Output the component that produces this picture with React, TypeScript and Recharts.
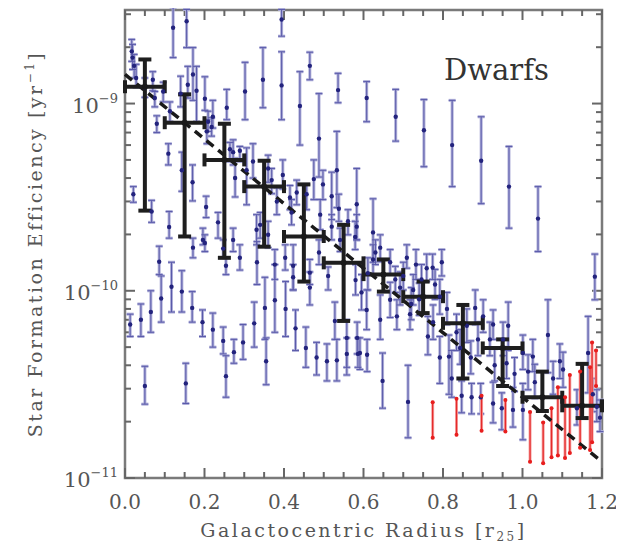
import React from "react"
import { ComposedChart, Scatter, XAxis, YAxis, ErrorBar, ReferenceLine, ReferenceArea } from "recharts"

// Star formation efficiency is kept in units of 1e-11 yr^-1 (1 = 10^-11, 100 = 10^-9)

// individual dwarf galaxy radial points
const radius = [
  0.017, 0.019, 0.023, 0.028, 0.021, 0.013, 0.040, 0.065, 0.050, 0.070, 0.075, 0.080, 0.067, 0.086, 0.091,
  0.050, 0.096, 0.113, 0.109, 0.121, 0.117, 0.111, 0.143, 0.153, 0.140, 0.143, 0.155, 0.158, 0.171, 0.170,
  0.169, 0.171, 0.180, 0.195, 0.201, 0.204, 0.209, 0.218, 0.196, 0.221, 0.234, 0.201, 0.247, 0.254, 0.254,
  0.256, 0.264, 0.274, 0.277, 0.272, 0.289, 0.289, 0.297, 0.302, 0.247, 0.221, 0.206, 0.272, 0.306, 0.322,
  0.325, 0.331, 0.332, 0.347, 0.352, 0.355, 0.360, 0.369, 0.382, 0.377, 0.377, 0.394, 0.394, 0.397, 0.404,
  0.403, 0.415, 0.419, 0.429, 0.423, 0.423, 0.432, 0.440, 0.455, 0.457, 0.465, 0.465, 0.465, 0.340, 0.360,
  0.482, 0.488, 0.475, 0.498, 0.491, 0.488, 0.508, 0.511, 0.520, 0.520, 0.528, 0.533, 0.533, 0.536, 0.538,
  0.541, 0.558, 0.558, 0.561, 0.579, 0.580, 0.584, 0.586, 0.583, 0.595, 0.591, 0.583, 0.608, 0.609, 0.611,
  0.608, 0.624, 0.624, 0.642, 0.642, 0.648, 0.667, 0.667, 0.681, 0.684, 0.692, 0.709, 0.712, 0.717, 0.725,
  0.732, 0.746, 0.752, 0.759, 0.762, 0.774, 0.775, 0.792, 0.792, 0.797, 0.815, 0.822, 0.823, 0.834, 0.843,
  0.847, 0.872, 0.881, 0.888, 0.895, 0.896, 0.901, 0.918, 0.926, 0.926, 0.948, 0.951, 0.964, 0.966, 0.976,
  1.001, 1.001, 1.014, 1.026, 1.031, 1.039, 1.064, 1.077, 1.094, 1.102, 1.137, 1.165, 1.177, 1.187, 1.195,
  1.182, 0.630, 0.700, 0.740, 0.780, 0.680, 0.720, 0.810, 0.860, 0.870, 0.930, 0.980, 0.960,
]
const sfe = [
  190, 176, 159, 137, 32.8, 6.6, 7.0, 7.7, 3.1, 134, 107, 78, 26.5, 14.3, 9.1,
  122, 116, 91, 54, 254, 10.5, 21.9, 9.9, 3.2, 113, 44, 275, 126, 143, 38,
  8.1, 17.0, 117, 6.8, 106, 28.0, 80, 75, 18.7, 6.2, 23.2, 18.0, 5.4, 3.5, 13.6,
  95, 57, 4.7, 40, 18.7, 56, 15.0, 5.3, 116, 16.8, 85, 71, 55, 44, 49,
  6.7, 21.2, 14.2, 134, 8.1, 4.2, 45, 39, 30, 8.9, 13.8, 125, 281, 41.5, 8.0,
  15.0, 31.5, 26.2, 6.3, 13.6, 11.8, 33.5, 97, 4.95, 32.8, 159, 10.4, 12.5, 22.5, 19.9,
  4.4, 65, 39.5, 37, 25.5, 16.0, 4.2, 12.0, 32, 22.0, 6.9, 4.25, 44, 118, 27.4,
  18.7, 5.6, 4.6, 23.5, 19.4, 11.4, 5.6, 4.6, 29, 9.8, 4.65, 22.0, 107, 4.55, 12.4,
  7.9, 14.7, 20.5, 7.0, 17.0, 3.3, 8.95, 14.2, 85, 7.3, 10.4, 15.0, 2.55, 7.5, 10.1,
  13.8, 11.5, 72, 13.2, 5.7, 13.3, 6.8, 4.4, 9.3, 14.2, 4.45, 3.4, 60, 6.0, 4.95,
  2.75, 2.7, 8.1, 5.5, 2.7, 49.5, 7.3, 5.5, 6.6, 2.5, 2.36, 5.5, 6.5, 36, 2.31,
  2.31, 4.65, 3.7, 4.45, 3.25, 24.3, 5.8, 3.4, 4.2, 3.8, 2.36, 4.65, 2.8, 2.4, 2.1,
  11.9, 16.0, 12.0, 9.0, 10.8, 11.5, 8.5, 8.0, 6.5, 4.4, 4.0, 3.6, 4.1,
]
const sfeHigh = [
  220, 207, 183, 162, 36, 7.5, 8.5, 10.0, 3.95, 148, 116, 86, 30.4, 17.3, 12.0,
  137, 130, 102, 61, 326, 14.2, 26.5, 12.8, 4.1, 140, 55, 318, 158, 199, 47,
  9.9, 19.1, 158, 7.9, 139, 32, 91, 84, 21.6, 7.6, 26.2, 19.9, 6.4, 4.5, 15.0,
  119, 62, 5.5, 51, 21.6, 59, 17.6, 6.6, 166, 18.7, 104, 82, 64, 58, 61,
  8.7, 25.5, 18.3, 199, 11.8, 5.6, 53, 45, 35.5, 13.8, 16.6, 189, 318, 50, 11.2,
  17.6, 36.5, 30.7, 7.9, 17.6, 13.8, 39, 148, 6.4, 37, 188, 12.6, 14.7, 26.2, 23.5,
  5.3, 113, 50, 44, 30.7, 18.7, 5.2, 13.4, 43, 25.5, 8.7, 5.5, 71, 145, 32.8,
  21.6, 7.0, 5.6, 27.1, 23.5, 13.8, 6.8, 5.6, 45, 12.2, 5.6, 25.5, 131, 5.5, 15.0,
  10.1, 17.6, 31, 9.5, 19.9, 4.65, 11.1, 16.6, 119, 8.95, 12.6, 17.6, 4.0, 8.95, 12.2,
  16.6, 13.8, 105, 15.7, 7.3, 15.7, 8.4, 5.7, 11.5, 16.6, 5.8, 4.8, 104, 7.5, 6.2,
  3.3, 3.2, 10.1, 6.8, 3.2, 85, 8.95, 6.8, 7.9, 3.25, 2.85, 6.8, 8.7, 59, 3.05,
  3.2, 5.8, 4.55, 5.5, 4.05, 36, 8.95, 4.2, 5.2, 4.7, 2.96, 7.3, 3.4, 2.96, 2.61,
  15.7, 18.7, 14.2, 11.0, 13.0, 13.5, 10.4, 9.8, 8.0, 5.4, 4.9, 4.4, 5.0,
]
const sfeLow = [
  168, 152, 137, 122, 29.7, 5.7, 5.7, 6.0, 2.48, 117, 96, 70, 23.2, 12.2, 6.8,
  108, 102, 80, 47, 176, 7.7, 19.1, 7.7, 2.5, 96, 34, 199, 107, 104, 30.2,
  6.8, 15.0, 80, 5.7, 92, 24.6, 71, 67, 17.6, 5.0, 19.1, 16.2, 4.6, 2.7, 12.2,
  82, 49, 4.1, 31.7, 16.2, 49, 12.9, 4.3, 82, 15.0, 74, 61, 47, 28.8, 40,
  5.0, 17.6, 10.8, 95, 5.5, 3.15, 38, 33, 25.5, 6.0, 11.5, 82, 229, 35, 5.7,
  12.9, 27.1, 22.5, 4.8, 10.1, 10.1, 28.8, 60, 3.9, 27.1, 134, 8.4, 10.8, 19.1, 17.0,
  3.55, 40.5, 30.7, 30.7, 21.2, 13.8, 3.3, 10.1, 24.0, 18.7, 5.5, 3.3, 27.8, 101, 23.5,
  16.2, 3.55, 3.9, 19.9, 16.6, 9.5, 4.6, 3.9, 18.7, 7.9, 3.8, 18.7, 80, 3.7, 10.1,
  6.2, 12.2, 14.2, 5.5, 14.3, 2.36, 7.2, 12.2, 63, 6.2, 8.4, 13.2, 1.64, 6.2, 8.4,
  11.5, 9.5, 46, 11.2, 4.55, 11.5, 5.5, 3.2, 7.5, 12.0, 2.8, 2.7, 36, 4.8, 4.05,
  2.23, 2.2, 6.6, 4.5, 2.2, 29.2, 6.0, 4.5, 5.5, 1.97, 1.81, 4.5, 4.8, 21.6, 1.87,
  1.60, 3.8, 2.96, 3.7, 2.67, 16.2, 3.65, 2.8, 3.4, 3.05, 1.92, 2.85, 2.26, 2.0, 1.77,
  8.95, 13.8, 10.1, 7.4, 9.0, 9.8, 7.0, 6.6, 5.3, 3.6, 3.3, 2.9, 3.4,
]

// red ranges at large radius (top and bottom ends)
const redR = [0.774, 0.834, 0.897, 0.957, 1.019, 1.052, 1.073, 1.089, 1.107, 1.119, 1.145, 1.170, 1.175, 1.185]
const redHigh = [2.54, 2.65, 2.75, 2.61, 2.25, 1.98, 2.36, 3.05, 2.7, 3.55, 3.7, 3.9, 5.3, 4.8]
const redLow = [1.64, 1.70, 1.79, 1.77, 1.22, 1.20, 1.29, 1.32, 1.28, 1.36, 1.45, 1.41, 1.55, 3.1]

// binned medians
const binR = [0.05, 0.15, 0.25, 0.35, 0.45, 0.55, 0.65, 0.75, 0.85, 0.95, 1.05, 1.15]
const binSfe = [123, 79, 50, 36, 19.5, 14.1, 12.2, 9.3, 6.7, 4.95, 2.7, 2.43]
const binHigh = [172, 112, 78, 49.5, 37, 22.5, 14.7, 11.2, 8.4, 5.5, 3.7, 4.07]
const binLow = [26.8, 19.5, 15, 17.2, 11.2, 6.9, 9.9, 7.6, 3.4, 3.1, 2.28, 2.09]
const binHalfWidth = 0.05

// dashed exponential fit
const fitR = [0, 1.2]
const fitSfe = [143, 1.22]

// axes
const xDomain = [0, 1.2]
const yDomain = [1, 316]
const xMajor = [0, 0.2, 0.4, 0.6, 0.8, 1.0, 1.2]
const xMinor = [
  0.05, 0.1, 0.15, 0.25, 0.3, 0.35, 0.45, 0.5, 0.55,
  0.65, 0.7, 0.75, 0.85, 0.9, 0.95, 1.05, 1.1, 1.15,
]
const yMajor = [1, 10, 100]
const yMajorExp = ["\u221211", "\u221210", "\u22129"]
const yMinor = [2, 3, 4, 5, 6, 7, 8, 9, 20, 30, 40, 50, 60, 70, 80, 90, 200, 300]

const CHART_W = 616
const CHART_H = 536
const PLOT_LEFT = 117
const PLOT_RIGHT = 594
const PLOT_TOP = 2
const PLOT_BOTTOM = 470

const AXIS_COLOR = "#7a7a7a"
const TICK_COLOR = "#666"
const TEXT_COLOR = "#555"
const FONT = "'DejaVu Serif', serif"
const MAJOR_LEN = 10
const MINOR_LEN = 6

const XLabel = (props: any) => (
  <text x={props.x} y={PLOT_BOTTOM + 31} textAnchor="middle" fontFamily={FONT} fontSize={20} fill={TEXT_COLOR}>
    {Number(props.payload.value).toFixed(1)}
  </text>
)

const YLabel = (props: any) => {
  const i = yMajor.indexOf(props.payload.value)
  return (
    <text x={PLOT_LEFT - 7} y={props.y + 9} textAnchor="end" fontFamily={FONT} fontSize={21} fill={TEXT_COLOR}>
      10
      <tspan dy={-10} fontSize={13}>
        {yMajorExp[i]}
      </tspan>
    </text>
  )
}

// inward tick marks drawn at both ends of a reference line
const VTick = (p: any) => {
  const top = Math.min(p.y1, p.y2)
  const bottom = Math.max(p.y1, p.y2)
  return (
    <g>
      <line x1={p.x1} x2={p.x1} y1={top} y2={top + p.len} stroke={TICK_COLOR} strokeWidth={2} />
      <line x1={p.x1} x2={p.x1} y1={bottom} y2={bottom - p.len} stroke={TICK_COLOR} strokeWidth={2} />
    </g>
  )
}
const HTick = (p: any) => {
  const left = Math.min(p.x1, p.x2)
  const right = Math.max(p.x1, p.x2)
  return (
    <g>
      <line x1={left} x2={left + p.len} y1={p.y1} y2={p.y1} stroke={TICK_COLOR} strokeWidth={2} />
      <line x1={right} x2={right - p.len} y1={p.y1} y2={p.y1} stroke={TICK_COLOR} strokeWidth={2} />
    </g>
  )
}

const XTitle = () => (
  <text x={(PLOT_LEFT + PLOT_RIGHT) / 2} y={529} textAnchor="middle" fontFamily={FONT} fontSize={19} letterSpacing={2.5} fill={TEXT_COLOR}>
    Galactocentric Radius [r
    <tspan dy={4} fontSize={12}>25</tspan>
    <tspan dy={-4}>]</tspan>
  </text>
)

// y title plus the panel name
const YTitle = () => {
  const cx = 34
  const cy = (PLOT_TOP + PLOT_BOTTOM) / 2
  return (
    <g>
      <text x={cx} y={cy} transform={`rotate(-90 ${cx} ${cy})`} textAnchor="middle" fontFamily={FONT} fontSize={19} letterSpacing={2.5} fill={TEXT_COLOR}>
        Star Formation Efficiency [yr
        <tspan dy={-8} fontSize={12}>{"\u22121"}</tspan>
        <tspan dy={8}>]</tspan>
      </text>
      <text x={436} y={72} fontFamily={FONT} fontSize={29} fill="#333">
        Dwarfs
      </text>
    </g>
  )
}

const blueData = radius.map((r, i) => ({ r, sfe: sfe[i], err: [sfe[i] - sfeLow[i], sfeHigh[i] - sfe[i]] }))
const redTopData = redR.map((r, i) => ({ r, sfe: redHigh[i], err: [redHigh[i] - redLow[i], 0] }))
const redBottomData = redR.map((r, i) => ({ r, sfe: redLow[i] }))
const binData = binR.map((r, i) => ({
  r,
  sfe: binSfe[i],
  err: [binSfe[i] - binLow[i], binHigh[i] - binSfe[i]],
  xErr: binHalfWidth,
}))

const BlueDot = (p: any) => <circle cx={p.cx} cy={p.cy} r={2.2} fill="#23237d" />
const RedDot = (p: any) => <circle cx={p.cx} cy={p.cy} r={2} fill="#e81e1e" />
const BlackDot = (p: any) => <circle cx={p.cx} cy={p.cy} r={3} fill="#1a1a1a" />

export default function App() {
  return (
    <div style={{ width: CHART_W, height: CHART_H, background: "#fff" }}>
      <ComposedChart width={CHART_W} height={CHART_H} margin={{ top: PLOT_TOP, right: CHART_W - PLOT_RIGHT, bottom: 0, left: 0 }}>
        <XAxis
          dataKey="r"
          type="number"
          domain={xDomain}
          ticks={xMajor}
          interval={0}
          allowDataOverflow
          height={CHART_H - PLOT_BOTTOM}
          axisLine={false}
          tickLine={false}
          tick={<XLabel />}
          label={<XTitle />}
        />
        <YAxis
          dataKey="sfe"
          type="number"
          scale="log"
          domain={yDomain}
          ticks={yMajor}
          interval={0}
          allowDataOverflow
          width={PLOT_LEFT}
          axisLine={false}
          tickLine={false}
          tick={<YLabel />}
          label={<YTitle />}
        />

        {/* plot frame */}
        <ReferenceArea
          x1={xDomain[0]}
          x2={xDomain[1]}
          y1={yDomain[0]}
          y2={yDomain[1]}
          fill="none"
          fillOpacity={0}
          stroke={AXIS_COLOR}
          strokeWidth={2.5}
          ifOverflow="visible"
        />

        {/* tick marks on all four sides */}
        {xMajor.map((v) => (
          <ReferenceLine key={`xM${v}`} x={v} shape={<VTick len={MAJOR_LEN} />} ifOverflow="visible" />
        ))}
        {xMinor.map((v) => (
          <ReferenceLine key={`xm${v}`} x={v} shape={<VTick len={MINOR_LEN} />} ifOverflow="visible" />
        ))}
        {yMajor.map((v) => (
          <ReferenceLine key={`yM${v}`} y={v} shape={<HTick len={MAJOR_LEN} />} ifOverflow="visible" />
        ))}
        {yMinor.map((v) => (
          <ReferenceLine key={`ym${v}`} y={v} shape={<HTick len={MINOR_LEN} />} ifOverflow="visible" />
        ))}

        <Scatter data={blueData} dataKey="sfe" isAnimationActive={false} shape={<BlueDot />}>
          <ErrorBar dataKey="err" direction="y" width={3.5} stroke="#aeaed8" strokeWidth={3} />
          <ErrorBar dataKey="err" direction="y" width={3.5} stroke="#5a5aaa" strokeWidth={1} />
        </Scatter>

        <Scatter data={redTopData} dataKey="sfe" isAnimationActive={false} shape={<RedDot />}>
          <ErrorBar dataKey="err" direction="y" width={1.5} stroke="#f5a3a3" strokeWidth={3} />
          <ErrorBar dataKey="err" direction="y" width={1.5} stroke="#e62a2a" strokeWidth={1.3} />
        </Scatter>
        <Scatter data={redBottomData} dataKey="sfe" isAnimationActive={false} shape={<RedDot />} />

        <ReferenceLine
          segment={[
            { x: fitR[0], y: fitSfe[0] },
            { x: fitR[1], y: fitSfe[1] },
          ]}
          stroke="#1a1a1a"
          strokeWidth={3.5}
          strokeDasharray="9 6"
          ifOverflow="visible"
        />

        <Scatter data={binData} dataKey="sfe" isAnimationActive={false} shape={<BlackDot />}>
          <ErrorBar dataKey="err" direction="y" width={6.5} stroke="#1e1e1e" strokeWidth={4} />
          <ErrorBar dataKey="xErr" direction="x" width={6.5} stroke="#1e1e1e" strokeWidth={4} />
        </Scatter>
      </ComposedChart>
    </div>
  )
}
